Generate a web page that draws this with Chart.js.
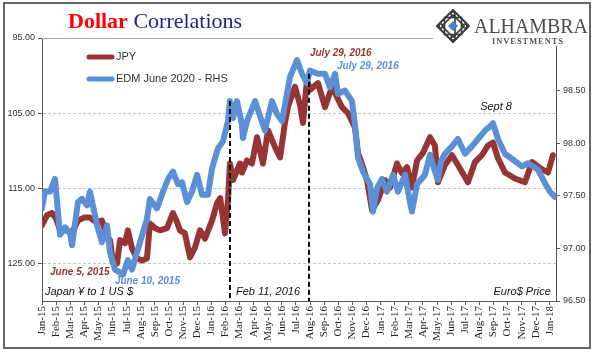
<!DOCTYPE html>
<html><head><meta charset="utf-8">
<script src="https://cdn.jsdelivr.net/npm/chart.js@4"></script>
<style>html,body{margin:0;padding:0;background:#fff;overflow:hidden}canvas{display:block}</style>
</head><body>
<canvas id="c" width="600" height="357"></canvas>
<script>
// ---- data ----
const monthLabels = ['Jan-15','Feb-15','Mar-15','Apr-15','May-15','Jun-15','Jul-15','Aug-15','Sep-15','Oct-15','Nov-15','Dec-15',
  'Jan-16','Feb-16','Mar-16','Apr-16','May-16','Jun-16','Jul-16','Aug-16','Sep-16','Oct-16','Nov-16','Dec-16',
  'Jan-17','Feb-17','Mar-17','Apr-17','May-17','Jun-17','Jul-17','Aug-17','Sep-17','Oct-17','Nov-17','Dec-17','Jan-18'];

// months since Jan 1 2015
const jpyMonths = [0,0.35,0.71,0.99,1.28,1.70,2.13,2.55,2.98,3.40,3.83,4.25,4.61,4.82,5.03,5.32,5.53,5.88,6.09,6.38,6.73,7.09,7.44,7.65,8.01,8.36,8.86,9.28,9.57,9.78,10.13,10.49,10.84,11.20,11.55,12.05,12.40,12.63,12.97,13.18,13.32,13.54,14.03,14.17,14.53,14.88,15.24,15.66,16.02,16.51,16.87,17.22,17.43,17.93,18.29,18.50,18.78,18.99,19.56,20.06,20.55,21.26,21.69,22.18,22.40,22.75,23.03,23.39,23.81,24.31,24.66,25.16,25.51,25.87,26.22,26.58,27.00,27.50,27.85,28.06,28.56,29.06,29.48,30.19,30.69,31.18,31.61,31.96,32.32,32.81,33.52,34.23,34.73,35.29,35.86,36.21];
const jpyValues = [119.9,118.6,118.3,119.0,120.6,120.6,120.9,119.3,118.9,118.9,119.5,119.3,121.5,121.9,124.9,125.0,121.9,122.3,120.6,123.0,124.3,124.6,124.3,119.7,120.3,120.6,120.3,118.3,119.5,120.6,121.0,124.2,122.9,120.6,121.7,119.3,117.0,116.3,121.0,116.6,111.7,113.9,111.7,112.9,111.3,111.7,108.2,111.7,107.3,109.5,110.9,106.3,104.2,101.5,103.9,106.3,100.6,101.9,101.0,104.2,101.5,104.2,105.0,106.9,110.3,112.2,113.9,117.9,116.6,113.9,114.9,111.7,113.0,112.2,114.9,111.3,110.3,108.2,109.3,114.2,111.9,110.6,111.9,114.2,111.5,110.6,109.3,108.9,111.0,112.9,113.7,114.2,111.5,112.3,112.9,110.6];

const edmMonths = [0,0.21,0.57,0.92,1.28,1.63,1.98,2.13,2.55,2.83,3.19,3.40,3.90,4.25,4.61,4.82,5.17,5.53,5.74,6.09,6.38,6.95,7.44,7.65,8.15,8.58,8.93,9.28,9.64,9.92,10.28,10.63,10.99,11.34,11.76,12.05,12.47,12.83,13.18,13.32,13.54,13.82,14.17,14.24,14.53,15.10,15.45,15.80,16.30,16.65,17.01,17.36,17.58,18.07,18.43,18.78,18.99,19.56,20.06,20.41,20.77,20.98,21.47,21.97,22.18,22.40,22.75,23.25,23.46,23.74,24.10,24.45,24.88,25.23,25.73,26.08,26.22,26.58,27.14,27.50,27.85,28.06,28.28,28.56,29.06,29.48,29.98,30.47,30.90,31.40,31.75,31.96,32.32,32.81,33.31,34.02,34.44,35.15,35.65,36.00,36.36];
const edmValues = [97.38,97.54,97.54,97.66,97.13,97.20,97.15,97.03,97.44,97.47,97.41,97.54,97.22,97.06,97.22,96.96,96.80,96.77,96.75,96.89,96.80,97.06,97.28,97.47,97.38,97.54,97.66,97.73,97.61,97.63,97.44,97.54,97.70,97.51,97.51,97.76,97.95,98.02,98.21,98.40,98.24,98.40,98.18,98.05,98.21,98.40,98.26,98.12,98.40,98.28,98.21,98.47,98.63,98.79,98.66,98.57,98.69,98.66,98.66,98.53,98.66,98.47,98.50,98.40,98.18,97.86,97.73,97.61,97.35,97.57,97.66,97.54,97.70,97.54,97.70,97.44,97.35,97.61,97.70,97.89,97.73,97.65,97.83,97.90,97.97,98.04,97.90,97.97,98.04,98.12,98.16,98.19,98.04,97.90,97.85,97.78,97.81,97.75,97.62,97.54,97.49];

const leftTicks = [95, 105, 115, 125];
const rightTicks = [96.5, 97, 97.5, 98, 98.5, 99];
const seriesNames = ['JPY', 'EDM June 2020 - RHS'];

// event markers (month index, EDM level at top of marker)
const eventMonths = [13.33, 18.93];
const eventTopsEDM = [98.40, 98.66];

// text notes anchored to data coordinates
const notes = [
  {text:'June 5, 2015',  m:0.57,  v:126.2, axis:'yL', color:'#963634', align:'left', style:'italic bold', size:10},
  {text:'June 10, 2015', m:5.17,  v:127.4, axis:'yL', color:'#5b8fd6', align:'left', style:'italic bold', size:10},
  {text:'Japan \u00A5 to 1 US $', m:0.21, v:128.85, axis:'yL', color:'#111', align:'left', style:'italic', size:11},
  {text:'Feb 11, 2016',  m:13.75, v:128.85, axis:'yL', color:'#111', align:'left', style:'italic', size:11},
  {text:'Euro$ Price',   m:36.07, v:128.85, axis:'yL', color:'#111', align:'right', style:'italic', size:11},
  {text:'July 29, 2016', m:18.99, v:97.0,  axis:'yL', color:'#963634', align:'left', style:'italic bold', size:10},
  {text:'July 29, 2016', m:20.91, v:98.73, axis:'yR', color:'#5b8fd6', align:'left', style:'italic bold', size:10},
  {text:'Sept 8',        m:32.18, v:98.34, axis:'yR', color:'#111', align:'center', style:'italic', size:11}
];

const RED = '#963634';
const BLUE = '#5b8fd6';
const SANS = '"Liberation Sans", Arial, sans-serif';
const SERIF = '"Liberation Serif", "Times New Roman", serif';

const decor = {
  id: 'decor',
  afterDatasetsDraw(chart) {
    const ctx = chart.ctx, xs = chart.scales.x, yR = chart.scales.yR, ca = chart.chartArea;
    ctx.save();
    ctx.strokeStyle = '#000';
    ctx.lineWidth = 2;
    ctx.setLineDash([5, 3]);
    eventMonths.forEach((m, i) => {
      const x = Math.round(xs.getPixelForValue(m));
      ctx.beginPath();
      ctx.moveTo(x, yR.getPixelForValue(eventTopsEDM[i]));
      ctx.lineTo(x, ca.bottom);
      ctx.stroke();
    });
    ctx.restore();
  },
  afterDraw(chart) {
    const ctx = chart.ctx, xs = chart.scales.x, ca = chart.chartArea;
    ctx.save();
    // top solid line
    ctx.strokeStyle = '#a6a6a6'; ctx.lineWidth = 1;
    ctx.beginPath(); ctx.moveTo(ca.left, ca.top + 0.5); ctx.lineTo(ca.right, ca.top + 0.5); ctx.stroke();

    // notes
    ctx.textBaseline = 'middle';
    notes.forEach(n => {
      ctx.font = n.style + ' ' + n.size + 'px ' + SANS;
      ctx.fillStyle = n.color;
      ctx.textAlign = n.align;
      ctx.fillText(n.text, xs.getPixelForValue(n.m), chart.scales[n.axis].getPixelForValue(n.v));
    });

    // legend
    chart.data.datasets.forEach((ds, i) => {
      const y = ca.top + 19 + i * 22;
      ctx.strokeStyle = ds.borderColor; ctx.lineWidth = 5; ctx.lineCap = 'round';
      ctx.beginPath(); ctx.moveTo(ca.left + 47, y); ctx.lineTo(ca.left + 70, y); ctx.stroke();
      ctx.fillStyle = '#333'; ctx.font = '11px ' + SANS; ctx.textAlign = 'left'; ctx.textBaseline = 'middle';
      ctx.fillText(ds.label, ca.left + 74, y);
    });

    // title
    ctx.textBaseline = 'alphabetic'; ctx.textAlign = 'left';
    ctx.font = 'bold 22px ' + SERIF; ctx.fillStyle = '#ff0000';
    ctx.fillText('Dollar', 68, 28);
    const w = ctx.measureText('Dollar ').width;
    ctx.font = '22px ' + SERIF; ctx.fillStyle = '#23238e';
    ctx.fillText('Correlations', 68 + w, 28);

    // logo
    ctx.fillStyle = '#fff'; ctx.fillRect(433, 5, 156, 41);
    const cx = 453, cy = 26;
    ctx.lineCap = 'butt';
    ctx.strokeStyle = '#3a3a3a'; ctx.lineWidth = 2;
    const dia = (r) => { ctx.beginPath(); ctx.moveTo(cx, cy - r); ctx.lineTo(cx + r, cy); ctx.lineTo(cx, cy + r); ctx.lineTo(cx - r, cy); ctx.closePath(); };
    dia(16); ctx.stroke();
    ctx.lineWidth = 1.6;
    ctx.strokeRect(cx - 8.5, cy - 8.5, 17, 17);
    dia(11); ctx.stroke();
    ctx.beginPath(); ctx.arc(cx, cy - 12, 2, 0, Math.PI * 2); ctx.arc(cx, cy + 12, 2, 0, Math.PI * 2); ctx.stroke();
    ctx.beginPath(); ctx.arc(cx - 12, cy, 2, 0, Math.PI * 2); ctx.stroke();
    ctx.beginPath(); ctx.arc(cx + 12, cy, 2, 0, Math.PI * 2); ctx.stroke();
    ctx.fillStyle = '#4a7fc4'; dia(5); ctx.fill();
    ctx.fillStyle = '#4d4d4d';
    ctx.font = '22px ' + SERIF;
    ctx.fillText('ALHAMBRA', 474, 33, 114);
    ctx.font = 'bold 9px ' + SERIF;
    try { ctx.letterSpacing = '1px'; } catch (e) {}
    ctx.fillStyle = '#555';
    ctx.fillText('INVESTMENTS', 492, 44, 72);
    try { ctx.letterSpacing = '0px'; } catch (e) {}

    // outer frame
    ctx.strokeStyle = '#666'; ctx.lineWidth = 2;
    ctx.strokeRect(4, 3, 586, 345);
    ctx.restore();
  }
};

new Chart(document.getElementById('c'), {
  type: 'line',
  data: {
    datasets: [
      { label: seriesNames[0], data: jpyMonths.map((m, i) => ({x: m, y: jpyValues[i]})), yAxisID: 'yL',
        borderColor: RED, borderWidth: 6, pointRadius: 0, order: 1, borderJoinStyle: 'round', borderCapStyle: 'round', tension: 0 },
      { label: seriesNames[1], data: edmMonths.map((m, i) => ({x: m, y: edmValues[i]})), yAxisID: 'yR',
        borderColor: BLUE, borderWidth: 6, pointRadius: 0, order: 0, borderJoinStyle: 'round', borderCapStyle: 'round', tension: 0 }
    ]
  },
  options: {
    responsive: false,
    animation: false,
    devicePixelRatio: 1,
    layout: { padding: { top: 38, left: 0, right: 0, bottom: 0 } },
    plugins: { legend: { display: false }, title: { display: false }, tooltip: { enabled: false } },
    scales: {
      x: {
        type: 'linear', min: 0, max: 36.43,
        afterBuildTicks: s => { s.ticks = monthLabels.map((_, i) => ({ value: i })); },
        afterFit: s => { s.height = 56; },
        ticks: { autoSkip: false, minRotation: 90, maxRotation: 90, padding: 1,
          font: { family: SERIF, size: 11 }, color: '#222',
          callback: (v) => monthLabels[Math.round(v)] },
        grid: { drawOnChartArea: false, drawTicks: true, tickLength: 4, color: '#595959' },
        border: { display: true, color: '#595959', width: 1 }
      },
      yL: {
        position: 'left', reverse: true, min: 95, max: 130,
        afterBuildTicks: s => { s.ticks = leftTicks.map(v => ({ value: v })); },
        afterFit: s => { s.width = 42; },
        ticks: { font: { family: SANS, size: 9 }, color: '#333', padding: 3, callback: v => v.toFixed(2) },
        grid: { color: '#c4c4c4', lineWidth: 1, drawTicks: true, tickLength: 4, tickColor: '#595959' },
        border: { display: true, color: '#595959', width: 1, dash: [3, 2] }
      },
      yR: {
        position: 'right', min: 96.5, max: 99,
        afterBuildTicks: s => { s.ticks = rightTicks.map(v => ({ value: v })); },
        afterFit: s => { s.width = 44; },
        ticks: { font: { family: SANS, size: 9 }, color: '#333', padding: 3, callback: v => v.toFixed(2) },
        grid: { drawOnChartArea: false, drawTicks: true, tickLength: 4, color: '#595959' },
        border: { display: true, color: '#595959', width: 1 }
      }
    }
  },
  plugins: [decor]
});
</script>
</body></html>
